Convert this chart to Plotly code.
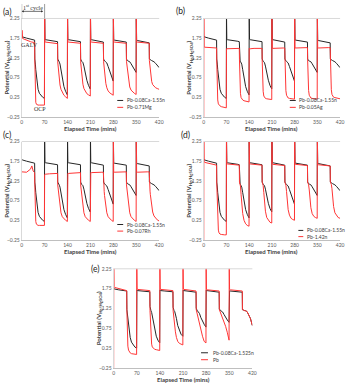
import plotly.graph_objects as go

# ---------------- data ----------------
TIME = [
    0, 0.3, 1, 3, 15, 27, 31, 35, 39.5, 40, 41, 42, 43, 45, 47, 50, 54, 59, 64, 69.5,
    70, 70.3, 71, 73, 85, 97, 101, 105, 109.5, 110, 111, 112, 113, 115, 117, 120, 124, 129, 134, 139.5,
    140, 140.3, 141, 143, 155, 167, 171, 175, 179.5, 180, 181, 182, 183, 185, 187, 190, 194, 199, 204, 209.5,
    210, 210.3, 211, 213, 225, 237, 241, 245, 249.5, 250, 251, 252, 253, 255, 257, 260, 264, 269, 274, 279.5,
    280, 280.3, 281, 283, 295, 307, 311, 315, 319.5, 320, 321, 322, 323, 325, 327, 330, 334, 339, 344, 349.5,
    350, 350.3, 351, 353, 365, 377, 381, 385, 389.5, 390, 391, 392, 393, 395, 397, 400, 404, 409, 414, 420,
]

BLACK_155 = [
    1.80, 1.80, 1.79, 1.78, 1.75, 1.73, 1.72, 1.71, 1.70, 1.22, 1.18, 1.07, 0.95, 0.74, 0.58, 0.45, 0.35, 0.29, 0.25, 0.22,
    2.40, 1.74, 1.72, 1.71, 1.70, 1.68, 1.67, 1.67, 1.66, 1.22, 1.19, 1.17, 1.16, 1.14, 1.09, 0.95, 0.72, 0.52, 0.40, 0.31,
    2.40, 1.73, 1.72, 1.71, 1.69, 1.68, 1.67, 1.66, 1.66, 1.22, 1.19, 1.17, 1.16, 1.15, 1.13, 1.04, 0.86, 0.68, 0.55, 0.46,
    2.40, 1.73, 1.72, 1.71, 1.69, 1.67, 1.66, 1.66, 1.65, 1.22, 1.19, 1.18, 1.17, 1.16, 1.15, 1.12, 1.03, 0.90, 0.78, 0.66,
    2.40, 1.72, 1.71, 1.70, 1.68, 1.67, 1.66, 1.65, 1.65, 1.22, 1.20, 1.19, 1.18, 1.17, 1.16, 1.15, 1.10, 1.03, 0.96, 0.88,
    2.40, 1.71, 1.70, 1.69, 1.67, 1.65, 1.64, 1.64, 1.63, 1.22, 1.21, 1.20, 1.20, 1.19, 1.18, 1.17, 1.15, 1.11, 1.06, 1.00,
]

RED_MG = [
    1.78, 1.85, 1.95, 1.74, 1.69, 1.66, 1.65, 1.65, 1.64, 1.20, 0.55, 0.22, 0.12, 0.07, 0.06, 0.05, 0.05, 0.05, 0.05, 0.05,
    2.40, 1.67, 1.66, 1.65, 1.64, 1.63, 1.62, 1.62, 1.61, 1.15, 1.05, 0.95, 0.85, 0.68, 0.56, 0.45, 0.36, 0.30, 0.26, 0.22,
    2.40, 1.67, 1.66, 1.65, 1.64, 1.63, 1.63, 1.62, 1.62, 1.15, 1.06, 0.96, 0.87, 0.70, 0.58, 0.47, 0.39, 0.34, 0.31, 0.28,
    2.40, 1.67, 1.66, 1.65, 1.64, 1.63, 1.63, 1.62, 1.62, 1.16, 1.07, 0.98, 0.89, 0.72, 0.60, 0.49, 0.41, 0.36, 0.33, 0.30,
    2.40, 1.67, 1.66, 1.65, 1.64, 1.63, 1.63, 1.62, 1.62, 1.16, 1.08, 0.99, 0.90, 0.74, 0.62, 0.51, 0.43, 0.38, 0.35, 0.32,
    2.40, 1.67, 1.66, 1.65, 1.64, 1.63, 1.63, 1.62, 1.62, 1.18, 1.10, 1.00, 0.90, 0.75, 0.65, 0.57, 0.52, 0.49, 0.47, 0.45,
]

RED_AG = [
    -0.30, 2.40, 1.53, 1.52, 1.51, 1.51, 1.50, 1.50, 1.50, 1.20, 0.60, 0.30, 0.18, 0.08, 0.05, 0.03, 0.01, 0.00, -0.01, -0.02,
    1.48, 1.48, 1.48, 1.48, 1.49, 1.49, 1.49, 1.49, 1.49, 1.20, 0.80, 0.50, 0.35, 0.24, 0.20, 0.18, 0.16, 0.15, 0.14, 0.13,
    1.49, 1.49, 1.48, 1.48, 1.49, 1.49, 1.49, 1.49, 1.49, 1.20, 0.82, 0.55, 0.40, 0.28, 0.24, 0.22, 0.21, 0.20, 0.20, 0.19,
    2.40, 1.49, 1.49, 1.49, 1.50, 1.50, 1.50, 1.50, 1.50, 1.20, 0.85, 0.58, 0.42, 0.30, 0.25, 0.23, 0.22, 0.21, 0.21, 0.20,
    2.40, 1.50, 1.50, 1.50, 1.50, 1.50, 1.51, 1.51, 1.51, 1.20, 0.85, 0.58, 0.42, 0.30, 0.25, 0.23, 0.22, 0.21, 0.21, 0.20,
    2.40, 1.50, 1.50, 1.50, 1.51, 1.51, 1.51, 1.51, 1.51, 1.20, 0.88, 0.60, 0.44, 0.32, 0.27, 0.25, 0.24, 0.23, 0.22, 0.21,
]

RED_RH = [
    1.48, 1.48, 1.48, 1.47, 1.47, 1.55, 1.63, 1.50, 1.46, 1.15, 0.60, 0.35, 0.22, 0.15, 0.13, 0.12, 0.12, 0.12, 0.12, 0.12,
    1.41, 1.41, 1.42, 1.42, 1.43, 1.44, 1.44, 1.44, 1.44, 1.15, 1.08, 0.98, 0.88, 0.70, 0.56, 0.44, 0.34, 0.28, 0.25, 0.22,
    1.43, 1.43, 1.44, 1.44, 1.45, 1.45, 1.46, 1.46, 1.46, 1.15, 1.08, 0.98, 0.88, 0.70, 0.56, 0.44, 0.34, 0.28, 0.25, 0.22,
    1.45, 1.45, 1.46, 1.46, 1.47, 1.47, 1.47, 1.47, 1.47, 1.15, 1.08, 0.98, 0.88, 0.70, 0.56, 0.44, 0.34, 0.28, 0.25, 0.22,
    2.40, 1.46, 1.46, 1.47, 1.47, 1.48, 1.48, 1.48, 1.48, 1.15, 1.08, 0.98, 0.88, 0.70, 0.56, 0.44, 0.34, 0.28, 0.25, 0.22,
    2.40, 1.47, 1.47, 1.47, 1.48, 1.48, 1.48, 1.48, 1.48, 1.15, 1.08, 0.99, 0.90, 0.72, 0.58, 0.46, 0.36, 0.30, 0.26, 0.23,
]

RED_SN = [
    -0.30, 2.40, 1.74, 1.72, 1.70, 1.68, 1.67, 1.66, 1.65, 1.20, 0.80, 0.45, 0.20, 0.00, -0.07, -0.10, -0.11, -0.12, -0.12, -0.12,
    2.40, 1.70, 1.69, 1.68, 1.67, 1.66, 1.66, 1.65, 1.65, 1.22, 1.19, 1.17, 1.12, 0.90, 0.65, 0.42, 0.25, 0.16, 0.12, 0.10,
    2.40, 1.70, 1.69, 1.68, 1.67, 1.66, 1.66, 1.65, 1.65, 1.22, 1.19, 1.17, 1.13, 0.95, 0.72, 0.48, 0.32, 0.24, 0.20, 0.18,
    2.40, 1.69, 1.68, 1.67, 1.66, 1.65, 1.65, 1.64, 1.64, 1.22, 1.19, 1.17, 1.14, 0.98, 0.76, 0.52, 0.38, 0.30, 0.27, 0.25,
    2.40, 1.69, 1.68, 1.67, 1.66, 1.65, 1.65, 1.64, 1.64, 1.22, 1.20, 1.18, 1.15, 1.02, 0.80, 0.57, 0.42, 0.35, 0.32, 0.30,
    2.40, 1.68, 1.67, 1.66, 1.65, 1.64, 1.64, 1.63, 1.63, 1.22, 1.20, 1.18, 1.16, 1.05, 0.85, 0.60, 0.44, 0.36, 0.32, 0.30,
]

BLACK_1525 = [
    1.76, 1.76, 1.75, 1.74, 1.72, 1.70, 1.70, 1.69, 1.69, 1.22, 1.16, 1.08, 0.98, 0.80, 0.68, 0.52, 0.40, 0.32, 0.28, 0.25,
    1.72, 1.72, 1.71, 1.70, 1.69, 1.68, 1.68, 1.67, 1.67, 1.30, 1.22, 1.20, 1.19, 1.15, 1.05, 0.90, 0.70, 0.55, 0.45, 0.38,
    1.72, 1.72, 1.71, 1.70, 1.69, 1.68, 1.68, 1.67, 1.67, 1.28, 1.22, 1.20, 1.19, 1.17, 1.12, 1.00, 0.82, 0.68, 0.60, 0.55,
    1.71, 1.71, 1.70, 1.70, 1.69, 1.68, 1.67, 1.67, 1.66, 1.26, 1.22, 1.20, 1.19, 1.18, 1.16, 1.12, 1.02, 0.92, 0.85, 0.78,
    1.71, 1.71, 1.70, 1.70, 1.69, 1.68, 1.67, 1.67, 1.66, 1.24, 1.22, 1.21, 1.20, 1.19, 1.18, 1.16, 1.10, 1.02, 0.96, 0.90,
    1.70, 1.70, 1.70, 1.69, 1.68, 1.67, 1.67, 1.66, 1.66, 1.22, 1.22, 1.21, 1.21, 1.20, 1.20, 1.19, 1.17, 1.10, 1.00, 0.82,
]

RED_PB = [
    -0.30, 2.40, 1.80, 1.78, 1.75, 1.73, 1.72, 1.71, 1.70, 1.20, 0.75, 0.45, 0.30, 0.20, 0.16, 0.13, 0.11, 0.10, 0.10, 0.09,
    2.40, 1.75, 1.74, 1.73, 1.72, 1.71, 1.71, 1.70, 1.70, 1.20, 1.00, 0.75, 0.55, 0.35, 0.28, 0.24, 0.22, 0.21, 0.20, 0.19,
    2.40, 1.75, 1.74, 1.73, 1.72, 1.71, 1.71, 1.70, 1.70, 1.20, 1.10, 1.00, 0.92, 0.78, 0.66, 0.52, 0.42, 0.37, 0.35, 0.33,
    2.40, 1.74, 1.74, 1.73, 1.72, 1.71, 1.70, 1.70, 1.69, 1.22, 1.18, 1.15, 1.12, 1.05, 0.98, 0.88, 0.72, 0.55, 0.42, 0.38,
    2.40, 1.74, 1.73, 1.72, 1.71, 1.70, 1.70, 1.69, 1.69, 1.22, 1.20, 1.18, 1.16, 1.12, 1.08, 1.02, 0.92, 0.80, 0.65, 0.45,
    2.40, 1.74, 1.73, 1.72, 1.71, 1.70, 1.70, 1.69, 1.69, 1.22, 1.22, 1.21, 1.21, 1.20, 1.20, 1.19, 1.17, 1.10, 1.00, 0.82,
]

PANEL_LABELS = ["(a)", "(b)", "(c)", "(d)", "(e)"]
BLACK_NAMES = ["Pb-0.08Ca-1.55n", "Pb-0.08Ca-1.55n", "Pb-0.08Ca-1.55n", "Pb-0.08Ca-1.55n", "Pb-0.08Ca-1.525n"]
RED_NAMES = ["Pb-0.71Mg", "Pb-0.05Ag", "Pb-0.07Rh", "Pb-1.42n", "Pb"]
BLACK_SERIES = [BLACK_155, BLACK_155, BLACK_155, BLACK_155, BLACK_1525]
RED_SERIES = [RED_MG, RED_AG, RED_RH, RED_SN, RED_PB]
X_TICKS = [0, 70, 140, 210, 280, 350, 420]
Y_TICKS = [-0.25, 0.25, 0.75, 1.25, 1.75, 2.25]

# ---------------- layout (pixels) ----------------
W, H = 350, 386
BOXES = [  # (left, right, top, bottom) of each plot area
    (21, 160.5, 15.7, 115.7),
    (205.7, 344, 15.7, 115.7),
    (21, 160.5, 140.7, 240.7),
    (205.7, 344, 140.7, 240.7),
    (114.3, 255, 270, 370.7),
]
LABEL_POS = [(0, 9), (176, 8), (0, 134), (181, 134), (89, 270)]
LEG = [  # line-start, line-end, text-start (x domain), row1 y, row2 y (y domain)
    (0.695, 0.738, 0.75, 0.167, 0.097),
    (0.631, 0.675, 0.685, 0.167, 0.097),
    (0.695, 0.738, 0.75, 0.157, 0.090),
    (0.694, 0.730, 0.745, 0.097, 0.034),
    (0.630, 0.680, 0.700, 0.153, 0.083),
]

BLACK_C = "#262626"
RED_C = "#ff3535"
FONT = "Lato, 'Open Sans', sans-serif"
TICK_C = "#595959"

fig = go.Figure()
layout = dict(
    width=W, height=H, margin=dict(l=0, r=0, t=0, b=0),
    paper_bgcolor="white", plot_bgcolor="white", showlegend=False,
    font=dict(family=FONT, size=5, color=TICK_C),
)
annotations = []
shapes = []

for i in range(5):
    n = "" if i == 0 else str(i + 1)
    xa, ya = "x" + n, "y" + n
    l, r, t, b = BOXES[i]
    layout["xaxis" + n] = dict(
        domain=[l / W, r / W], anchor=ya, range=[0, 420], tickvals=X_TICKS,
        showgrid=False, zeroline=False, showline=True, linecolor="#bfbfbf", linewidth=1,
        ticks="", tickfont=dict(size=5, color=TICK_C), fixedrange=True,
    )
    layout["yaxis" + n] = dict(
        domain=[1 - b / H, 1 - t / H], anchor=xa, range=[-0.25, 2.25], tickvals=Y_TICKS,
        tickformat=".2f", showgrid=False, zeroline=False, showline=True,
        linecolor="#d9d9d9", linewidth=1, ticks="", tickfont=dict(size=5, color=TICK_C),
        fixedrange=True,
    )
    fig.add_trace(go.Scatter(x=TIME, y=BLACK_SERIES[i], mode="lines", name=BLACK_NAMES[i],
                             line=dict(color=BLACK_C, width=1), xaxis=xa, yaxis=ya))
    fig.add_trace(go.Scatter(x=TIME, y=RED_SERIES[i], mode="lines", name=RED_NAMES[i],
                             line=dict(color=RED_C, width=1), xaxis=xa, yaxis=ya))

    shapes.append(dict(type="line", xref=xa + " domain", yref=ya + " domain", x0=0, x1=1, y0=1, y1=1,
                       line=dict(color="#d9d9d9", width=1)))
    lx, ly = LABEL_POS[i]
    annotations.append(dict(text=PANEL_LABELS[i], xref="paper", yref="paper", x=lx / W, y=1 - ly / H,
                            xanchor="left", yanchor="middle", showarrow=False,
                            font=dict(size=8.5, color="#222222", family=FONT)))
    annotations.append(dict(text="<b>Elapsed Time (mins)</b>", xref=xa + " domain", yref="paper",
                            x=0.5, y=1 - (b + 11.5) / H, xanchor="center", yanchor="middle",
                            showarrow=False, font=dict(size=6, color="#404040", family=FONT)))
    annotations.append(dict(text="<b>Potential (V<sub>Hg/HgSO4</sub>)</b>", xref="paper", yref=ya + " domain",
                            x=(l - 15) / W, y=0.5, xanchor="center", yanchor="middle", textangle=-90,
                            showarrow=False, font=dict(size=6, color="#404040", family=FONT)))
    x0, x1, xt, r1, r2 = LEG[i]
    for yy, col, name in ((r1, BLACK_C, BLACK_NAMES[i]), (r2, RED_C, RED_NAMES[i])):
        shapes.append(dict(type="line", xref=xa + " domain", yref=ya + " domain", x0=x0, x1=x1, y0=yy, y1=yy,
                           line=dict(color=col, width=1)))
        annotations.append(dict(text=name, xref=xa + " domain", yref=ya + " domain", x=xt, y=yy,
                                xanchor="left", yanchor="middle", showarrow=False,
                                font=dict(size=5, color="#404040", family=FONT)))

annotations.append(dict(text="GALV", x=23, y=1.58, xref="x", yref="y", showarrow=False,
                        font=dict(size=6, color="#333333", family="Liberation Serif, serif")))
annotations.append(dict(text="OCP", x=57, y=-0.05, xref="x", yref="y", showarrow=False,
                        font=dict(size=6, color="#333333", family="Liberation Serif, serif")))
annotations.append(dict(text="1<sup>st</sup> cycle", x=35, y=1 - 4 / H, xref="x", yref="paper",
                        showarrow=False, yanchor="middle",
                        font=dict(size=6, color="#333333", family="Liberation Serif, serif")))
annotations.append(dict(text="", x=0, y=1 - 8.5 / H, xref="x", yref="paper", ax=70, ay=0,
                        axref="x", ayref="pixel", showarrow=True, arrowside="end+start",
                        arrowhead=2, arrowsize=0.6, arrowwidth=0.7, arrowcolor="#333333"))
for tx in (0, 70):
    shapes.append(dict(type="line", xref="x", yref="paper", x0=tx, x1=tx, y0=1 - 15.7 / H, y1=1 - 1 / H,
                       line=dict(color="#808080", width=0.8)))

layout["annotations"] = annotations
layout["shapes"] = shapes
fig.update_layout(**layout)
fig.write_html("out.html")
